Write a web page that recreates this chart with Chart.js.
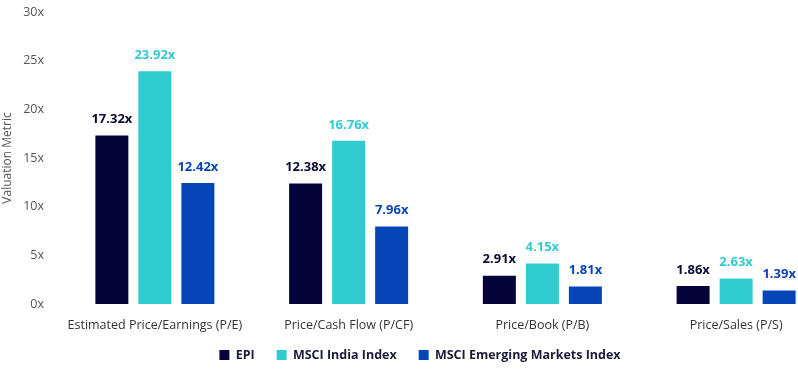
<!DOCTYPE html>
<html>
<head>
<meta charset="utf-8">
<script src="https://cdn.jsdelivr.net/npm/chart.js@4"></script>
<style>
html,body{margin:0;padding:0;background:#fff;}
#wrap{width:798px;height:370px;}
</style>
</head>
<body>
<div id="wrap"><canvas id="c" width="798" height="370"></canvas></div>
<script>
const categories = ["Estimated Price/Earnings (P/E)", "Price/Cash Flow (P/CF)", "Price/Book (P/B)", "Price/Sales (P/S)"];
const seriesNames = ["EPI", "MSCI India Index", "MSCI Emerging Markets Index"];
const epi = [17.32, 12.38, 2.91, 1.86];
const msciIndia = [23.92, 16.76, 4.15, 2.63];
const msciEM = [12.42, 7.96, 1.81, 1.39];
const yTicks = [0, 5, 10, 15, 20, 25, 30];
const colors = ["#05033a", "#30cbd1", "#0645b5"];

const FONT = "'Open Sans', 'Noto Sans', sans-serif";

const labelPlugin = {
  id: 'barLabels',
  afterDatasetsDraw(chart) {
    const ctx = chart.ctx;
    ctx.save();
    ctx.font = "bold 13px " + FONT;
    ctx.textAlign = 'center';
    ctx.textBaseline = 'middle';
    chart.data.datasets.forEach((ds, i) => {
      const meta = chart.getDatasetMeta(i);
      ctx.fillStyle = ds.labelColor;
      meta.data.forEach((bar, j) => {
        ctx.fillText(ds.data[j].toFixed(2) + 'x', bar.x, bar.y - 16);
      });
    });
    ctx.restore();
  }
};

// place plot area like the reference (plot extends past the right edge)
const placePlugin = {
  id: 'place',
  afterLayout(chart) {
    const x = chart.scales.x, y = chart.scales.y;
    const top = 12, bottom = 304, left = 58, right = 833;
    y.top = top; y.bottom = bottom; y.height = bottom - top; y.configure();
    const xh = x.height;
    x.left = left; x.right = right; x.width = right - left;
    x.top = bottom; x.bottom = bottom + xh; x.configure();
    chart.chartArea = { left: left, top: top, right: 798, bottom: bottom, width: 798 - left, height: bottom - top };
    const lg = chart.legend;
    if (lg) {
      const dy = 349 - (lg.top + lg.height / 2);
      lg.top += dy; lg.bottom += dy;
      lg.left += 21; lg.right += 21;
    }
  }
};

new Chart(document.getElementById('c'), {
  type: 'bar',
  data: {
    labels: categories,
    datasets: [
      { label: seriesNames[0], data: epi, backgroundColor: colors[0], labelColor: "#0a0a33" },
      { label: seriesNames[1], data: msciIndia, backgroundColor: colors[1], labelColor: "#30cbd1" },
      { label: seriesNames[2], data: msciEM, backgroundColor: colors[2], labelColor: "#0a44b3" }
    ]
  },
  options: {
    responsive: false,
    animation: false,
    layout: { padding: { left: 0, right: 0, top: 6, bottom: 2 } },
    datasets: { bar: { categoryPercentage: 0.666, barPercentage: 0.767 } },
    plugins: {
      legend: {
        position: 'bottom',
        labels: {
          boxWidth: 10, boxHeight: 10, padding: 22,
          color: "#1a1a3a",
          font: { family: FONT, size: 12.5, weight: 'bold' }
        }
      },
      tooltip: { enabled: false }
    },
    scales: {
      x: {
        grid: { display: false, drawTicks: false },
        border: { display: false },
        ticks: { color: "#333", font: { family: FONT, size: 12.5 }, padding: 14, maxRotation: 0, autoSkip: false }
      },
      y: {
        min: 0, max: 30,
        afterBuildTicks(axis) { axis.ticks = yTicks.map(v => ({ value: v })); },
        afterFit(axis) { axis.width = 58; },
        grid: { display: false, drawTicks: false },
        border: { display: false },
        ticks: { color: "#555", font: { family: FONT, size: 12.5 }, padding: 14, callback: v => v + 'x' },
        title: { display: true, text: 'Valuation Metric', color: "#555", font: { family: FONT, size: 12 }, padding: 0 }
      }
    }
  },
  plugins: [placePlugin, labelPlugin]
});
</script>
</body>
</html>
